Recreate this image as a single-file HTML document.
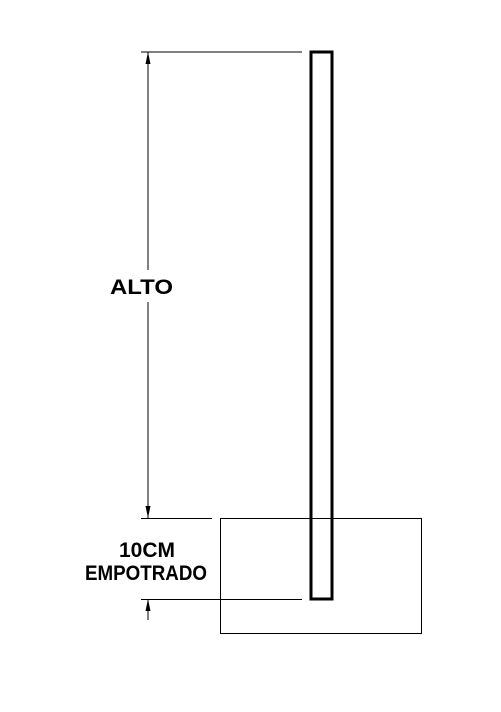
<!DOCTYPE html>
<html><head><style>
body{margin:0;background:#fff;width:501px;height:707px;overflow:hidden}
text{font-family:"Liberation Sans",sans-serif;font-weight:bold;fill:#000}
</style></head><body>
<svg width="501" height="707" viewBox="0 0 501 707">
<rect x="311" y="52" width="21" height="547" fill="none" stroke="#000" stroke-width="3"/>
<rect x="220.5" y="518.5" width="201" height="115" fill="none" stroke="#000" stroke-width="1"/>
<g stroke="#000" stroke-width="1">
<line x1="141" y1="52" x2="302" y2="52"/>
<line x1="141" y1="518.5" x2="212" y2="518.5"/>
<line x1="141" y1="599.5" x2="302" y2="599.5"/>
<line x1="148" y1="52" x2="148" y2="270"/>
<line x1="148" y1="302" x2="148" y2="518"/>
<line x1="148" y1="599" x2="148" y2="620"/>
</g>
<g fill="#000">
<polygon points="148,52 145.5,64 150.5,64"/>
<polygon points="148,518 145.5,506 150.5,506"/>
<polygon points="148,599 145.5,611 150.5,611"/>
</g>
<text x="110" y="294" font-size="21" textLength="63" lengthAdjust="spacingAndGlyphs">ALTO</text>
<text x="119" y="557" font-size="21" textLength="56" lengthAdjust="spacingAndGlyphs">10CM</text>
<text x="85" y="580" font-size="21" textLength="122" lengthAdjust="spacingAndGlyphs">EMPOTRADO</text>
</svg>
</body></html>
